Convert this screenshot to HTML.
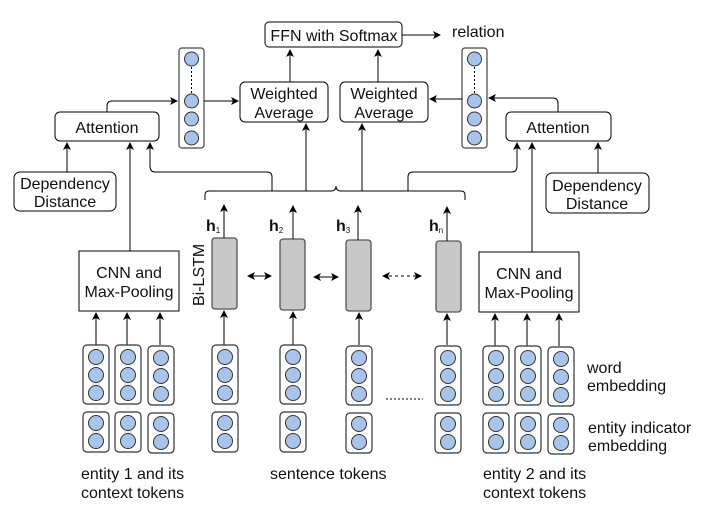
<!DOCTYPE html>
<html><head><style>body{margin:0;background:#fff}svg{display:block}text{font-family:"Liberation Sans",sans-serif;font-size:16px;fill:#111}</style></head><body>
<svg width="701" height="522" viewBox="0 0 701 522" xmlns="http://www.w3.org/2000/svg">
<defs><marker id="a" markerWidth="8" markerHeight="8" refX="7" refY="4" orient="auto" markerUnits="userSpaceOnUse"><path d="M0,0 L8,4 L0,8 L2,4z" fill="#000"/></marker>
<marker id="b" markerWidth="8" markerHeight="8" refX="1" refY="4" orient="auto" markerUnits="userSpaceOnUse"><path d="M8,0 L0,4 L8,8 L6,4z" fill="#000"/></marker>
<g id="col">
<g stroke="#333" fill="#fff" stroke-width="1.2"><rect x="-13" y="0" width="26" height="59" rx="4"/><rect x="-13" y="67" width="26" height="40" rx="4"/></g>
<g stroke="#333" fill="#a9c4eb" stroke-width="1"><circle cx="0" cy="12" r="7.5"/><circle cx="0" cy="30" r="7.5"/><circle cx="0" cy="48" r="7.5"/><circle cx="0" cy="78" r="7.5"/><circle cx="0" cy="96" r="7.5"/></g>
</g></defs>
<g fill="#fff" stroke="#000" stroke-width="1">
<rect x="265" y="22" width="137" height="25" rx="4"/>
<rect x="240" y="82" width="88" height="40" rx="5"/>
<rect x="340" y="82" width="88" height="40" rx="5"/>
<rect x="55" y="112" width="104" height="29" rx="5"/>
<rect x="506" y="112" width="105" height="29" rx="5"/>
<rect x="14" y="172" width="102" height="39" rx="6"/>
<rect x="546" y="173" width="103" height="40" rx="6"/>
<rect x="79" y="251" width="100" height="60"/>
<rect x="479" y="252" width="100" height="60"/>
</g>
<text x="334" y="41" text-anchor="middle">FFN with Softmax</text>
<text x="452" y="37">relation</text>
<text x="284" y="99" text-anchor="middle">Weighted</text><text x="284" y="118" text-anchor="middle">Average</text>
<text x="384" y="99" text-anchor="middle">Weighted</text><text x="384" y="118" text-anchor="middle">Average</text>
<text x="107" y="133" text-anchor="middle">Attention</text>
<text x="558" y="133" text-anchor="middle">Attention</text>
<text x="65" y="189" text-anchor="middle">Dependency</text><text x="65" y="207" text-anchor="middle">Distance</text>
<text x="597" y="191" text-anchor="middle">Dependency</text><text x="597" y="209" text-anchor="middle">Distance</text>
<text x="129" y="278" text-anchor="middle">CNN and</text><text x="129" y="297" text-anchor="middle">Max-Pooling</text>
<text x="529" y="279" text-anchor="middle">CNN and</text><text x="529" y="298" text-anchor="middle">Max-Pooling</text>
<text transform="translate(204,306) rotate(-90)">Bi-LSTM</text>
<text x="206" y="231" font-weight="bold">h<tspan font-size="8" font-weight="normal" dy="2">1</tspan></text>
<text x="269" y="231" font-weight="bold">h<tspan font-size="8" font-weight="normal" dy="2">2</tspan></text>
<text x="336" y="231" font-weight="bold">h<tspan font-size="8" font-weight="normal" dy="2">3</tspan></text>
<text x="429" y="231" font-weight="bold">h<tspan font-size="8" font-weight="normal" dy="2">n</tspan></text>
<text x="587" y="373">word</text><text x="587" y="391">embedding</text>
<text x="588" y="433">entity indicator</text><text x="588" y="451">embedding</text>
<text x="81" y="479">entity 1 and its</text><text x="81" y="498">context tokens</text>
<text x="270" y="479">sentence tokens</text>
<text x="483" y="479">entity 2 and its</text><text x="483" y="498">context tokens</text>
<g stroke="#444" stroke-width="1.2" fill="#fff"><rect x="179" y="48" width="25" height="100" rx="3"/><rect x="462" y="48" width="25" height="100" rx="3"/></g>
<g stroke="#333" fill="#a9c4eb" stroke-width="1">
<circle cx="191.5" cy="59" r="7"/><circle cx="191.5" cy="101" r="7"/><circle cx="191.5" cy="119" r="7"/><circle cx="191.5" cy="138" r="7"/>
<circle cx="474.5" cy="59" r="7"/><circle cx="474.5" cy="101" r="7"/><circle cx="474.5" cy="119" r="7"/><circle cx="474.5" cy="138" r="7"/>
</g>
<g stroke="#000" stroke-dasharray="2,2"><line x1="191.5" y1="67" x2="191.5" y2="93"/><line x1="474.5" y1="67" x2="474.5" y2="93"/><line x1="386" y1="399" x2="423" y2="399"/></g>
<g fill="#c8c8c8" stroke="#555" stroke-width="1.3">
<rect x="212" y="238" width="25" height="71" rx="3"/><rect x="280" y="239" width="25" height="71" rx="3"/><rect x="346" y="240" width="25" height="71" rx="3"/><rect x="436" y="241" width="25" height="71" rx="3"/>
</g>
<g stroke="#000" stroke-width="1" fill="none">
<line x1="402" y1="35" x2="440" y2="35" marker-end="url(#a)"/>
<line x1="290" y1="82" x2="290" y2="50" marker-end="url(#a)"/>
<line x1="378" y1="82" x2="378" y2="50" marker-end="url(#a)"/>
<line x1="204" y1="101" x2="238" y2="101" marker-end="url(#a)"/>
<line x1="462" y1="99" x2="430" y2="99" marker-end="url(#a)"/>
<path d="M107,112 V106 Q107,101 112,101 H177" marker-end="url(#a)"/>
<path d="M558,112 V104 Q558,98 553,98 H489" marker-end="url(#a)"/>
<line x1="67" y1="172" x2="67" y2="143" marker-end="url(#a)"/>
<line x1="598" y1="173" x2="598" y2="143" marker-end="url(#a)"/>
<line x1="130" y1="251" x2="130" y2="143" marker-end="url(#a)"/>
<line x1="532" y1="252" x2="532" y2="143" marker-end="url(#a)"/>
<path d="M272,191 V177 Q272,172 267,172 H155 Q150,172 150,166 V143" marker-end="url(#a)"/>
<path d="M408,191 V177 Q408,172 413,172 H512 Q517,172 517,166 V143" marker-end="url(#a)"/>
<path d="M205,200 V195 Q205,191 209,191 H331 Q336,191 336,186 Q336,191 341,191 H461 Q465,191 465,195 V200"/>
<line x1="306" y1="191" x2="306" y2="124" marker-end="url(#a)"/>
<line x1="362" y1="191" x2="362" y2="124" marker-end="url(#a)"/>
<line x1="224" y1="238" x2="224" y2="205" marker-end="url(#a)"/>
<line x1="293" y1="239" x2="293" y2="206" marker-end="url(#a)"/>
<line x1="358" y1="240" x2="358" y2="206" marker-end="url(#a)"/>
<line x1="447" y1="241" x2="447" y2="207" marker-end="url(#a)"/>
<line x1="248" y1="276" x2="271" y2="276" marker-start="url(#b)" marker-end="url(#a)"/>
<line x1="314" y1="277" x2="338" y2="277" marker-start="url(#b)" marker-end="url(#a)"/>
<line x1="383" y1="276" x2="421" y2="276" stroke-dasharray="3,3" marker-start="url(#b)" marker-end="url(#a)"/>
<line x1="224" y1="345" x2="224" y2="311" marker-end="url(#a)"/>
<line x1="293" y1="345" x2="293" y2="312" marker-end="url(#a)"/>
<line x1="359" y1="345" x2="359" y2="313" marker-end="url(#a)"/>
<line x1="447" y1="345" x2="447" y2="314" marker-end="url(#a)"/>
<line x1="96" y1="345" x2="96" y2="313" marker-end="url(#a)"/>
<line x1="127" y1="345" x2="127" y2="313" marker-end="url(#a)"/>
<line x1="160" y1="345" x2="160" y2="313" marker-end="url(#a)"/>
<line x1="495" y1="346" x2="495" y2="314" marker-end="url(#a)"/>
<line x1="527" y1="346" x2="527" y2="314" marker-end="url(#a)"/>
<line x1="559" y1="346" x2="559" y2="314" marker-end="url(#a)"/>
</g>
<use href="#col" x="96" y="345"/><use href="#col" x="128" y="345"/><use href="#col" x="161" y="346"/>
<use href="#col" x="225" y="345"/><use href="#col" x="293" y="345"/><use href="#col" x="359" y="346"/><use href="#col" x="448" y="346"/>
<use href="#col" x="496" y="346"/><use href="#col" x="528" y="346"/><use href="#col" x="561" y="347"/>
</svg>
</body></html>
